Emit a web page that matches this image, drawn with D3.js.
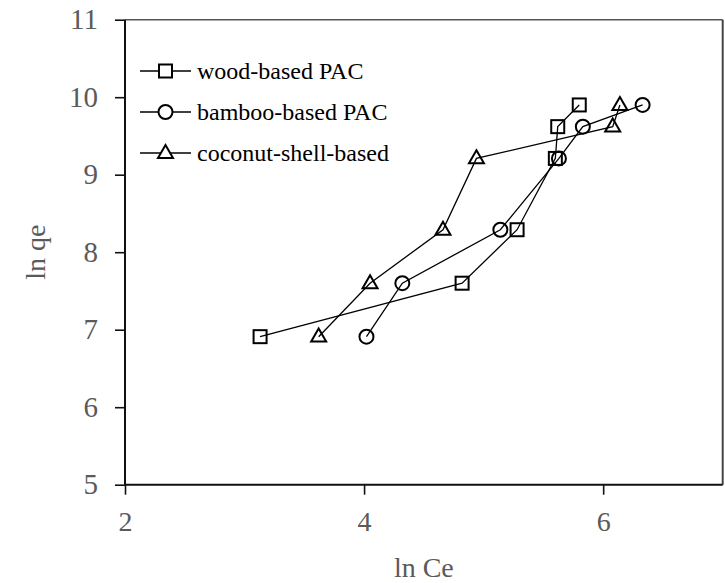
<!DOCTYPE html>
<html>
<head>
<meta charset="utf-8">
<script src="https://cdn.jsdelivr.net/npm/d3@7"></script>
<style>
  html, body { margin: 0; padding: 0; background: #fff; }
  svg { display: block; }
</style>
</head>
<body>
<svg id="chart" width="725" height="583"></svg>
<script>
// Freundlich isotherm data: ln qe versus ln Ce for three activated carbons
const seriesNames = ["wood-based PAC", "bamboo-based PAC", "coconut-shell-based"];
const markerTypes = ["square", "circle", "triangle"];
const lnQe = [6.91, 7.60, 8.29, 9.21, 9.62, 9.90];
const lnCeWood = [3.13, 4.82, 5.28, 5.60, 5.62, 5.80];
const lnCeBamboo = [4.02, 4.32, 5.14, 5.63, 5.83, 6.33];
const lnCeCoconut = [3.62, 4.05, 4.66, 4.94, 6.08, 6.14];
const xTicks = [2, 4, 6];
const yTicks = [5, 6, 7, 8, 9, 10, 11];

const series = [lnCeWood, lnCeBamboo, lnCeCoconut].map((xs, i) => ({
  name: seriesNames[i],
  marker: markerTypes[i],
  points: xs.map((x, j) => ({ x, y: lnQe[j] }))
}));

const svg = d3.select("#chart");
const plotLeft = 125, plotRight = 722.7, plotTop = 19.7, plotBottom = 484.7;

const x = d3.scaleLinear().domain([2, 7]).range([plotLeft, plotRight]);
const y = d3.scaleLinear().domain([5, 11]).range([plotBottom, plotTop]);

const labelFont = "'Liberation Serif', 'Times New Roman', serif";
const greyText = "#5a5a5a";

// Top and right frame
svg.append("line").attr("x1", plotLeft).attr("x2", plotRight).attr("y1", plotTop).attr("y2", plotTop)
  .attr("stroke", "#555").attr("stroke-width", 1.5);
svg.append("line").attr("x1", plotRight).attr("x2", plotRight).attr("y1", plotTop).attr("y2", plotBottom)
  .attr("stroke", "#444").attr("stroke-width", 2);

// Axes
const xAxis = d3.axisBottom(x).tickValues(xTicks).tickSize(10).tickPadding(16).tickFormat(d3.format("d"));
const yAxis = d3.axisLeft(y).tickValues(yTicks).tickSize(10).tickPadding(17).tickFormat(d3.format("d"));

const gx = svg.append("g").attr("transform", `translate(0,${plotBottom})`).call(xAxis);
const gy = svg.append("g").attr("transform", `translate(${plotLeft},0)`).call(yAxis);

[gx, gy].forEach(g => {
  g.select(".domain").attr("stroke", "#111").attr("stroke-width", 2);
  g.selectAll(".tick line").attr("stroke", "#111").attr("stroke-width", 1.6);
  g.selectAll(".tick text")
    .attr("fill", greyText)
    .style("font-family", labelFont);
});
gx.selectAll(".tick text").style("font-size", "28px");
gy.selectAll(".tick text").style("font-size", "29px");
gx.select(".domain").attr("d", `M${plotLeft},0H${plotRight}`);
gy.select(".domain").attr("d", `M0,${plotBottom}V${plotTop}`);

// Axis titles
svg.append("text")
  .attr("x", (plotLeft + plotRight) / 2).attr("y", 577)
  .attr("text-anchor", "middle")
  .attr("fill", greyText)
  .style("font-family", labelFont).style("font-size", "28px")
  .text("ln Ce");

svg.append("text")
  .attr("transform", `translate(45,${(plotTop + plotBottom) / 2}) rotate(-90)`)
  .attr("text-anchor", "middle")
  .attr("fill", greyText)
  .style("font-family", labelFont).style("font-size", "28px")
  .text("ln qe");

// Marker drawing
function drawMarker(g, type, cx, cy) {
  if (type === "square") {
    g.append("rect").attr("x", cx - 6.5).attr("y", cy - 6.5).attr("width", 13).attr("height", 13);
  } else if (type === "circle") {
    g.append("circle").attr("cx", cx).attr("cy", cy).attr("r", 7);
  } else {
    const s = 15, h = s * Math.sqrt(3) / 2;
    g.append("path").attr("d",
      `M${cx},${cy - h * 0.62}L${cx + s / 2},${cy + h * 0.38}L${cx - s / 2},${cy + h * 0.38}Z`);
  }
}

const line = d3.line().x(d => x(d.x)).y(d => y(d.y));

const plot = svg.append("g");
series.forEach(s => {
  plot.append("path").datum(s.points)
    .attr("d", line)
    .attr("fill", "none").attr("stroke", "#000").attr("stroke-width", 1.3);
});
series.forEach(s => {
  const g = plot.append("g").attr("fill", "none").attr("stroke", "#000").attr("stroke-width", 2);
  s.points.forEach(p => drawMarker(g, s.marker, x(p.x), y(p.y)));
});

// Legend
const legendRows = [71, 112, 153];
series.forEach((s, i) => {
  const ly = legendRows[i];
  const g = svg.append("g");
  g.append("line").attr("x1", 140).attr("x2", 191).attr("y1", ly).attr("y2", ly)
    .attr("stroke", "#000").attr("stroke-width", 1.3);
  const mg = g.append("g").attr("fill", "#fff").attr("stroke", "#000").attr("stroke-width", 2);
  drawMarker(mg, s.marker, 165.5, ly);
  g.append("text").attr("x", 197).attr("y", ly).attr("dy", "0.33em")
    .attr("fill", "#000")
    .style("font-family", labelFont).style("font-size", "24px")
    .text(s.name);
});
</script>
</body>
</html>
